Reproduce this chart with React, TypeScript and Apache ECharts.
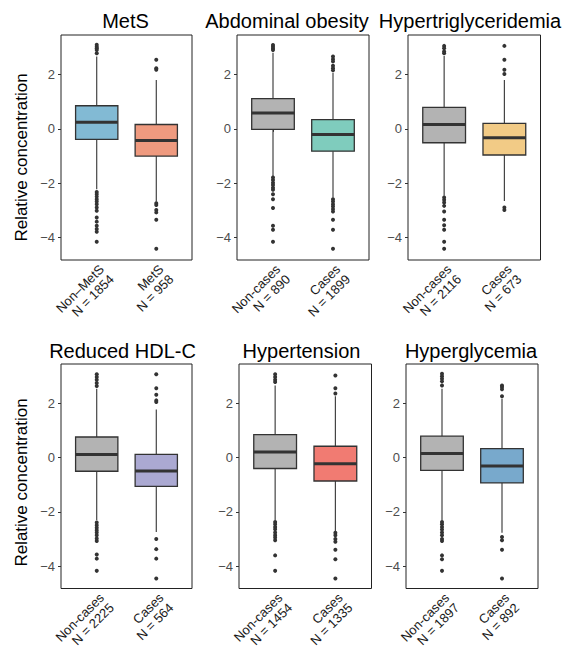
import React, { useEffect, useRef } from 'react';
import * as echarts from 'echarts';

// ---------- data ----------
const panelTitles = ['MetS', 'Abdominal obesity', 'Hypertriglyceridemia', 'Reduced HDL-C', 'Hypertension', 'Hyperglycemia'];

const metsLabels = ['Non\u2013MetS\nN = 1854', 'MetS\nN = 958'];
const abdoLabels = ['Non-cases\nN = 890', 'Cases\nN = 1899'];
const trigLabels = ['Non-cases\nN = 2116', 'Cases\nN = 673'];
const hdlLabels = ['Non-cases\nN = 2225', 'Cases\nN = 564'];
const htnLabels = ['Non-cases\nN = 1454', 'Cases\nN = 1335'];
const glyLabels = ['Non-cases\nN = 1897', 'Cases\nN = 892'];

// box stats: [lower whisker, Q1, median, Q3, upper whisker]
const metsStats = [[-2.22, -0.39, 0.24, 0.85, 2.66], [-2.65, -1.0, -0.43, 0.16, 1.8]];
const abdoStats = [[-1.73, -0.02, 0.585, 1.11, 2.8], [-2.52, -0.82, -0.21, 0.34, 2.05]];
const trigStats = [[-2.46, -0.51, 0.16, 0.79, 2.68], [-2.65, -0.96, -0.33, 0.2, 1.8]];
const hdlStats = [[-2.31, -0.5, 0.12, 0.76, 2.54], [-2.74, -1.06, -0.49, 0.12, 1.77]];
const htnStats = [[-2.31, -0.4, 0.21, 0.85, 2.66], [-2.7, -0.86, -0.22, 0.42, 2.26]];
const glyStats = [[-2.31, -0.47, 0.15, 0.79, 2.54], [-2.77, -0.93, -0.31, 0.33, 2.17]];

// outliers per group
const metsOutliers = [
  [3.09, 3.02, 2.96, 2.9, 2.78, -2.32, -2.4, -2.49, -2.59, -2.67, -2.77, -2.89, -3.01, -3.26, -3.41, -3.56, -3.68, -3.78, -4.15],
  [2.54, 2.23, 2.17, -2.73, -2.8, -2.98, -3.07, -3.34, -4.41],
];
const abdoOutliers = [
  [3.08, 3.02, 2.95, 2.9, -1.79, -1.88, -1.98, -2.06, -2.16, -2.24, -2.4, -2.59, -2.91, -3.56, -3.71, -4.15],
  [2.66, 2.56, 2.48, 2.32, 2.23, 2.15, -2.59, -2.67, -2.77, -2.85, -2.95, -3.04, -3.34, -3.71, -4.41],
];
const trigOutliers = [
  [3.05, 2.96, 2.84, 2.78, -2.52, -2.61, -2.71, -2.83, -3.04, -3.34, -3.54, -3.71, -4.15, -4.41],
  [3.05, 2.54, 2.17, 2.02, -2.89, -2.98],
];
const hdlOutliers = [
  [3.07, 2.97, 2.87, 2.75, 2.64, -2.39, -2.49, -2.58, -2.67, -2.76, -2.86, -2.98, -3.07, -3.57, -3.72, -4.17],
  [3.07, 2.56, 2.32, 2.11, 2.05, -3.0, -3.37, -3.72, -4.45],
];
const htnOutliers = [
  [3.07, 2.97, 2.87, 2.79, -2.37, -2.45, -2.55, -2.64, -2.76, -2.86, -2.94, -3.04, -3.6, -4.17],
  [3.03, 2.56, 2.36, -2.77, -2.86, -3.0, -3.1, -3.39, -3.74, -4.45],
];
const glyOutliers = [
  [3.09, 3.0, 2.91, 2.81, 2.66, -2.37, -2.45, -2.55, -2.65, -2.76, -2.86, -3.0, -3.07, -3.6, -3.74, -4.17],
  [2.66, 2.6, 2.52, 2.26, -2.92, -3.04, -3.39, -4.45],
];

const yTicks = [-4, -2, 0, 2];
const xPositions = [1, 2];

// ---------- styles ----------
const GREY = '#b3b3b3';
const panelFills = [
  ['#82bad4', '#ef9a7f'],
  [GREY, '#7fccbd'],
  [GREY, '#f2cb86'],
  [GREY, '#aba9d2'],
  [GREY, '#f17b72'],
  [GREY, '#78a9cc'],
];
const panelRects = [
  { left: 61, top: 35, width: 131, height: 225 },
  { left: 237, top: 35, width: 132, height: 225 },
  { left: 408, top: 35, width: 132.5, height: 225 },
  { left: 61, top: 364, width: 131, height: 224.5 },
  { left: 239, top: 364, width: 132.5, height: 224.5 },
  { left: 406, top: 364, width: 132, height: 224.5 },
];
const titlePos = [
  [125.5, 21], [287, 21], [470, 21],
  [122.5, 351], [301.5, 351], [471, 351],
];
const FONT = '"Liberation Sans", Arial, Helvetica, sans-serif';
const Y_MIN = -4.82;
const Y_MAX = 3.45;
const BOX_HALF = 0.355;

const allLabels = [metsLabels, abdoLabels, trigLabels, hdlLabels, htnLabels, glyLabels];
const allStats = [metsStats, abdoStats, trigStats, hdlStats, htnStats, glyStats];
const allOutliers = [metsOutliers, abdoOutliers, trigOutliers, hdlOutliers, htnOutliers, glyOutliers];

const fmtY = (v: number) => (v < 0 ? '\u2212' + Math.abs(v) : String(v));

function buildOption() {
  const grid: any[] = [];
  const xAxis: any[] = [];
  const yAxis: any[] = [];
  const series: any[] = [];
  const graphic: any[] = [];

  for (let p = 0; p < 6; p++) {
    const r = panelRects[p];
    grid.push({
      ...r,
      show: true,
      borderColor: '#222',
      borderWidth: 1,
      backgroundColor: '#fff',
      containLabel: false,
      outerBoundsMode: 'none',
    });
    const labels = allLabels[p];
    xAxis.push({
      type: 'value',
      gridIndex: p,
      min: 0.4,
      max: 2.6,
      axisLine: { show: false },
      splitLine: { show: false },
      axisTick: { show: true, customValues: xPositions, length: 3, lineStyle: { color: '#333', width: 1 } },
      axisLabel: {
        show: true,
        customValues: xPositions,
        rotate: 45,
        align: 'right',
        verticalAlign: 'top',
        margin: 2,
        fontSize: 13,
        lineHeight: 14,
        color: '#1a1a1a',
        fontFamily: FONT,
        formatter: (v: number) => labels[Math.round(v) - 1] ?? '',
      },
    });
    yAxis.push({
      type: 'value',
      gridIndex: p,
      min: Y_MIN,
      max: Y_MAX,
      axisLine: { show: false },
      splitLine: { show: false },
      axisTick: { show: true, customValues: yTicks, length: 3, lineStyle: { color: '#333', width: 1 } },
      axisLabel: {
        show: true,
        customValues: yTicks,
        margin: 6,
        fontSize: 13,
        color: '#4d4d4d',
        fontFamily: FONT,
        formatter: (v: number) => fmtY(v),
      },
    });

    const stats = allStats[p];
    const fills = panelFills[p];
    series.push({
      type: 'custom',
      xAxisIndex: p,
      yAxisIndex: p,
      encode: { x: 0, y: [1, 2, 3, 4, 5] },
      data: stats.map((s, i) => [xPositions[i], ...s]),
      renderItem: (params: any, api: any) => {
        const x = api.value(0);
        const lo = api.coord([x, api.value(1)]);
        const q1 = api.coord([x, api.value(2)]);
        const md = api.coord([x, api.value(3)]);
        const q3 = api.coord([x, api.value(4)]);
        const hi = api.coord([x, api.value(5)]);
        const hw = api.size([BOX_HALF, 0])[0];
        const lineStyle = { stroke: '#333', lineWidth: 1.1 };
        return {
          type: 'group',
          children: [
            { type: 'line', shape: { x1: lo[0], y1: lo[1], x2: q1[0], y2: q1[1] }, style: lineStyle },
            { type: 'line', shape: { x1: q3[0], y1: q3[1], x2: hi[0], y2: hi[1] }, style: lineStyle },
            {
              type: 'rect',
              shape: { x: q3[0] - hw, y: q3[1], width: 2 * hw, height: q1[1] - q3[1] },
              style: { fill: fills[params.dataIndex], stroke: '#333', lineWidth: 1.3 },
            },
            {
              type: 'line',
              shape: { x1: md[0] - hw, y1: md[1], x2: md[0] + hw, y2: md[1] },
              style: { stroke: '#333', lineWidth: 3 },
            },
          ],
        };
      },
      z: 2,
    });

    const outs = allOutliers[p];
    const pts: number[][] = [];
    outs.forEach((arr, i) => arr.forEach((v) => pts.push([xPositions[i], v])));
    series.push({
      type: 'scatter',
      xAxisIndex: p,
      yAxisIndex: p,
      data: pts,
      symbol: 'circle',
      symbolSize: 4,
      itemStyle: { color: '#333', opacity: 1 },
      z: 3,
    });

    graphic.push({
      type: 'text',
      x: titlePos[p][0],
      y: titlePos[p][1],
      style: {
        text: panelTitles[p],
        fill: '#000',
        font: `20px ${FONT}`,
        textAlign: 'center',
        textVerticalAlign: 'middle',
        align: 'center',
        verticalAlign: 'middle',
      },
    });
  }

  const yLabelPos = [[21.5, 157.5], [21.5, 482.5]];
  yLabelPos.forEach(([x, y]) => {
    graphic.push({
      type: 'text',
      x,
      y,
      rotation: Math.PI / 2,
      style: {
        text: 'Relative concentration',
        fill: '#000',
        font: `17px ${FONT}`,
        textAlign: 'center',
        textVerticalAlign: 'middle',
        align: 'center',
        verticalAlign: 'middle',
      },
    });
  });

  return {
    animation: false,
    backgroundColor: '#fff',
    grid,
    xAxis,
    yAxis,
    series,
    graphic,
  };
}

export default function App() {
  const ref = useRef<HTMLDivElement>(null);
  useEffect(() => {
    if (!ref.current) return;
    const chart = echarts.init(ref.current, null, { renderer: 'svg' });
    chart.setOption(buildOption() as any);
    return () => chart.dispose();
  }, []);
  return (
    <div
      ref={ref}
      style={{ position: 'fixed', left: 0, top: 0, width: 571, height: 650, background: '#fff' }}
    />
  );
}
